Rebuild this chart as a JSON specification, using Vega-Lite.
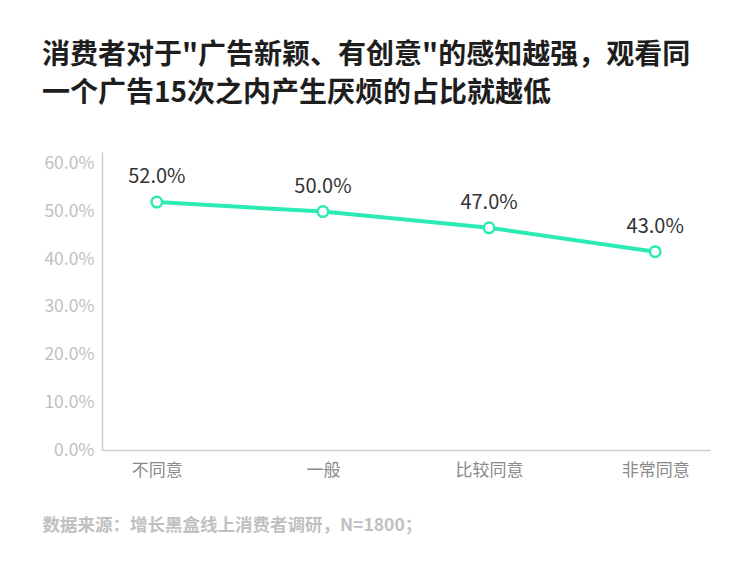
{
  "$schema": "https://vega.github.io/schema/vega-lite/v6.json",
  "width": 608,
  "height": 298,
  "autosize": "none",
  "padding": {"left": 102, "top": 152, "right": 40, "bottom": 130},
  "background": "white",
  "config": {
    "view": {"stroke": null},
    "font": "Noto Sans CJK SC"
  },
  "title": {
    "text": ["消费者对于\"广告新颖、有创意\"的感知越强，观看同", "一个广告15次之内产生厌烦的占比就越低"],
    "anchor": "start",
    "frame": "group",
    "dx": -60,
    "offset": 44,
    "fontSize": 28,
    "lineHeight": 38,
    "fontWeight": "bold",
    "color": "#1e1e1e",
    "font": "Noto Sans CJK SC"
  },
  "data": {
    "values": [
      {"cat": "不同意", "value": 52.0, "label": "52.0%"},
      {"cat": "一般", "value": 50.0, "label": "50.0%"},
      {"cat": "比较同意", "value": 46.6, "label": "47.0%"},
      {"cat": "非常同意", "value": 41.6, "label": "43.0%"}
    ]
  },
  "encoding": {
    "x": {
      "field": "cat",
      "type": "ordinal",
      "sort": null,
      "scale": {"type": "point", "padding": 0.33},
      "axis": {
        "labelAngle": 0,
        "labelFontSize": 17,
        "labelColor": "#8a8a8a",
        "labelPadding": 12,
        "ticks": false,
        "domainColor": "#cccccc",
        "domainWidth": 1.5,
        "grid": false,
        "title": "数据来源：增长黑盒线上消费者调研，N=1800；",
        "titleAnchor": "start",
        "titleAlign": "left",
        "titleX": -60,
        "titleY": 66,
        "titleColor": "#c0c0c0",
        "titleFontSize": 17.5,
        "titleFontWeight": "bold"
      }
    },
    "y": {
      "field": "value",
      "type": "quantitative",
      "scale": {"domain": [0, 62.5], "nice": false},
      "axis": {
        "values": [0, 10, 20, 30, 40, 50, 60],
        "labelExpr": "format(datum.value / 100, '.1%')",
        "labelFontSize": 17.5,
        "labelColor": "#c0c0c0",
        "labelPadding": 8,
        "ticks": false,
        "grid": false,
        "domainColor": "#cccccc",
        "domainWidth": 1.5,
        "title": null
      }
    }
  },
  "layer": [
    {
      "mark": {"type": "line", "color": "#2BEBB3", "strokeWidth": 4}
    },
    {
      "mark": {"type": "point", "shape": "circle", "filled": true, "fill": "white", "stroke": "#2BEBB3", "strokeWidth": 2.5, "size": 110, "opacity": 1}
    },
    {
      "mark": {"type": "text", "dy": -25, "fontSize": 20, "color": "#333333", "baseline": "middle"},
      "encoding": {"text": {"field": "label"}}
    }
  ]
}
